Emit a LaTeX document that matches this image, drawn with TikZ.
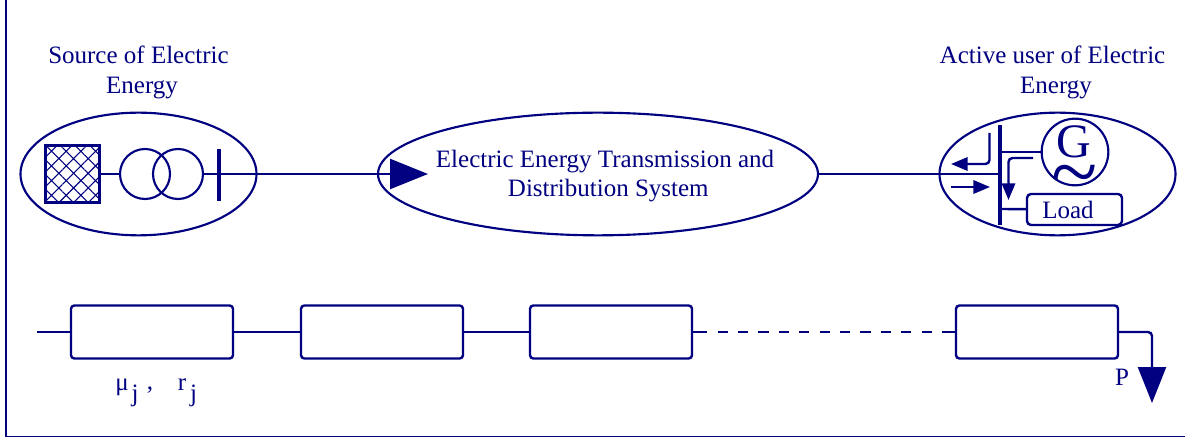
\documentclass[tikz,border=0pt]{standalone}
\usepackage{fontspec}
\setmainfont{Liberation Serif}
\usetikzlibrary{positioning, arrows.meta, shapes.geometric, patterns.meta}
\definecolor{linenavy}{RGB}{0, 0, 128}
\tikzset{
  oval/.style={draw=linenavy, ellipse, line width=1.6pt, minimum width=177pt, minimum height=92pt, inner sep=0pt},
  wire/.style={draw=linenavy, line width=1.8pt},
  busbar/.style={draw=linenavy, line width=2.6pt},
  blockbox/.style={draw=linenavy, line width=1.8pt, rounded corners=2.5pt, minimum width=121.5pt, minimum height=39.75pt, inner sep=0pt},
  ring/.style={draw=linenavy, circle, line width=1.6pt, minimum size=37.5pt, inner sep=0pt},
  bigtip/.style={-{Triangle[length=28.5pt,width=22.5pt]}},
  droptip/.style={-{Triangle[length=27pt,width=21pt]}},
  smalltip/.style={-{Triangle[length=12.5pt,width=10pt]}},
}
\begin{document}
\begin{tikzpicture}[x=0.75pt, y=-0.75pt, every node/.style={text=linenavy, align=center, font=\fontsize{18.75pt}{23pt}\selectfont}]
    \useasboundingbox (0,0) rectangle (1185,438);
    % frame
    \draw[linenavy, line width=1.1pt] (6,0) -- (6,436.5) -- (1185,436.5);

    % top row
    \node[oval] (source) at (138.5,174) {};
    \node[oval, minimum width=330pt] (network) at (598,174) {};
    \node[oval] (user) at (1057.5,174) {};
    \node[font=\fontsize{18.75pt}{22pt}\selectfont] (networklabel) at (605,176) {Electric Energy Transmission and\\\hspace*{5pt}Distribution System};
    \node (sourcelabel) at (138.5,72.5) {Source of Electric\\\hspace*{5.25pt}Energy};
    \node (userlabel) at (1052.5,72.5) {Active user of Electric\\\hspace*{5.25pt}Energy};

    % source side
    \node[draw=linenavy, line width=2.4pt, minimum width=41pt, minimum height=42.5pt, inner sep=0pt,
      pattern={Hatch[angle=45, distance=7.8pt, line width=0.8pt]}, pattern color=linenavy] (gen) at (72.5,174) {};
    \node[ring] (t1) at (145,174) {};
    \node[ring] (t2) at (178,174) {};
    \coordinate (arrowend) at (428,174);
    \coordinate (bus1top) at (219,149);
    \coordinate (bus1bot) at (219,201);
    \draw[wire] (gen) -- (t1);
    \draw[wire, bigtip] (t2) -- (arrowend);
    \draw[busbar] (bus1top) -- (bus1bot);

    % user side
    \coordinate (bus2top) at (1000,125);
    \coordinate (bus2bot) at (1000,225);
    \coordinate (busin) at (1000,174);
    \coordinate (busg) at (1000,152);
    \coordinate (busl) at (1000,209);
    \draw[busbar] (bus2top) -- (bus2bot);
    \draw[wire] (network) -- (busin);
    \node[ring, minimum size=50pt] (gnode) at (1075,152) {};
    \node[font=\fontsize{36pt}{36pt}\selectfont, inner sep=0pt] (gletter) at (1074,142) {G};
    \node[font=\fontsize{64pt}{64pt}\selectfont, inner sep=0pt] (gwave) at (1075,183) {\textasciitilde};
    \node[blockbox, rounded corners=3pt, minimum width=71.25pt, minimum height=23.25pt] (load) at (1074.5,209.5) {Load\hspace*{9.75pt}};
    \draw[wire] (busg) -- (gnode);
    \draw[wire] (busl) -- (load);
    \coordinate (a1s) at (989.5,133);
    \coordinate (a1m) at (989.5,164);
    \coordinate (a1e) at (951,164);
    \coordinate (a2s) at (951,187);
    \coordinate (a2e) at (990,187);
    \coordinate (a3s) at (1033,158);
    \coordinate (a3m) at (1008.5,158);
    \coordinate (a3e) at (1008.5,200);
    \draw[wire, smalltip, rounded corners=3pt] (a1s) -- (a1m) -- (a1e);
    \draw[wire, smalltip] (a2s) -- (a2e);
    \draw[wire, smalltip, rounded corners=3pt] (a3s) -- (a3m) -- (a3e);

    % bottom row
    \node[blockbox] (b1) at (152,332) {};
    \node[blockbox] (b2) at (382,332) {};
    \node[blockbox] (b3) at (611,332) {};
    \node[blockbox] (b4) at (1037,332) {};
    \coordinate (feed) at (37,332);
    \coordinate (dash1) at (707.3,332);
    \coordinate (dash2) at (942,332);
    \coordinate (bend) at (1152,332);
    \coordinate (drop) at (1152,403);
    \draw[wire] (feed) -- (b1);
    \draw[wire] (b1) -- (b2);
    \draw[wire] (b2) -- (b3);
    \draw[wire] (b3) -- (dash1);
    \draw[wire, dash pattern=on 7.6pt off 7.7pt, dash phase=7.6pt] (dash1) -- (dash2);
    \draw[wire] (dash2) -- (b4);
    \draw[wire, droptip, rounded corners=3pt] (b4) -- (bend) -- (drop);

    \node (mu) at (122,387) {μ};
    \node (muj) at (135,396) {j};
    \node (comma) at (150,390) {,};
    \node (r) at (182,385) {r};
    \node (rj) at (193.5,396) {j};
    \node (power) at (1122,377) {P};
  \end{tikzpicture}
\end{document}
